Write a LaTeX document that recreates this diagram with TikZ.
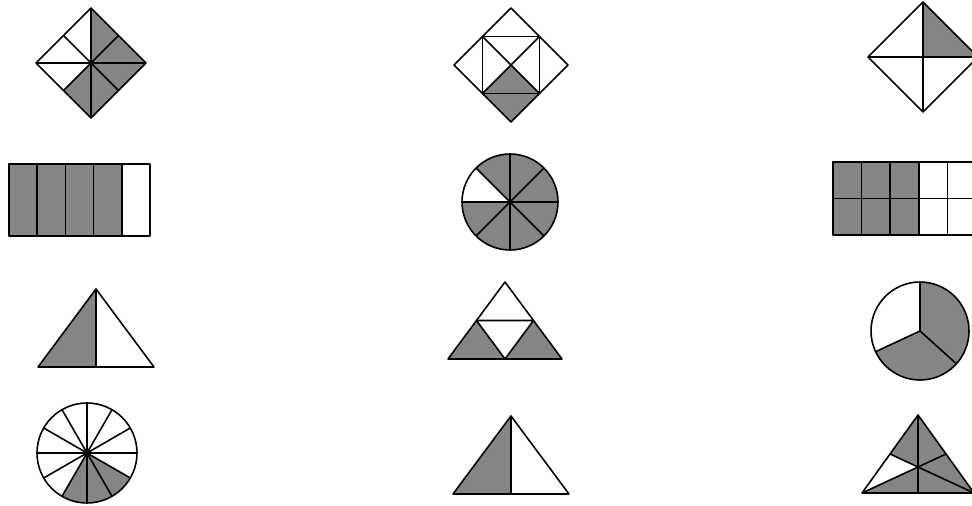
\documentclass[tikz,border=0pt]{standalone}
\usepackage{tikz}
\usetikzlibrary{calc}
\tikzset{
  arny/.style={fill=black!48},
  vonal/.style={draw,line width=0.9pt,line join=round},
  forgat/.style={shift={#1},yscale=-1},
}

\begin{document}
\begin{tikzpicture}[x=0.02cm,y=-0.02cm]
  \useasboundingbox (0,0) rectangle (972,506);
  \clip (0,0) rectangle (972,506);
  % elso sor
  \begin{scope}[forgat={(91,63)}]
    \fill[arny] (0,55) -- (55,0) -- (0,-55) -- cycle;
    \fill[arny] (0,0) -- (0,-55) -- (-27.5,-27.5) -- cycle;
    \draw[vonal] (0,55) -- (55,0) -- (0,-55) -- (-55,0) -- cycle;
    \draw[vonal] (0,55) -- (0,-55) (-55,0) -- (55,0);
    \draw[vonal] (-27.5,27.5) -- (27.5,-27.5) (27.5,27.5) -- (-27.5,-27.5);
    \fill (0,0) circle[radius=2];
  \end{scope}
  \begin{scope}[forgat={(511,65)}]
    \fill[arny] (0,0) -- (-28.5,-28.5) -- (0,-57) -- (28.5,-28.5) -- cycle;
    \draw[vonal] (0,57) -- (57,0) -- (0,-57) -- (-57,0) -- cycle;
    \draw[vonal] (-28.5,-28.5) rectangle (28.5,28.5);
    \draw[vonal] (-28.5,-28.5) -- (28.5,28.5) (28.5,-28.5) -- (-28.5,28.5);
  \end{scope}
  \begin{scope}[forgat={(923,57)}]
    \fill[arny] (0,0) -- (0,55) -- (55,0) -- cycle;
    \draw[vonal] (0,55) -- (55,0) -- (0,-55) -- (-55,0) -- cycle;
    \draw[vonal] (0,55) -- (0,-55) (-55,0) -- (55,0);
  \end{scope}
  % masodik sor
  \fill[arny] (9,164) rectangle (121.8,236);
  \draw[vonal] (9,164) rectangle (150,236);
  \foreach \x in {37.2,65.4,93.6,121.8} \draw[vonal] (\x,164) -- (\x,236);
  \begin{scope}[forgat={(510,202)}]
    \fill[arny] (0,0) -- (180:48) arc[start angle=180,end angle=495,radius=48] -- cycle;
    \draw[vonal] (0,0) circle[radius=48];
    \foreach \a in {0,45,90,135} \draw[vonal] (\a:48) -- (\a+180:48);
    \fill (0,0) circle[radius=2.5];
  \end{scope}
  \fill[arny] (833,162) rectangle (918.8,235);
  \draw[vonal] (833,162) rectangle (976,235);
  \draw[vonal] (833,198.5) -- (976,198.5);
  \foreach \x in {861.6,890.2,918.8,947.4} \draw[vonal] (\x,162) -- (\x,235);
  % harmadik sor
  \fill[arny] (96,289) -- (38,367) -- (96,367) -- cycle;
  \draw[vonal] (96,289) -- (38,367) -- (154,367) -- cycle;
  \draw[vonal] (96,289) -- (96,367);
  \fill[arny] (476.5,320.5) -- (448,359) -- (505,359) -- cycle;
  \fill[arny] (533.5,320.5) -- (505,359) -- (562,359) -- cycle;
  \draw[vonal] (505,282) -- (448,359) -- (562,359) -- cycle;
  \draw[vonal] (476.5,320.5) -- (533.5,320.5) -- (505,359) -- cycle;
  \begin{scope}[forgat={(920,331)}]
    \fill[arny] (0,0) -- (205:49) arc[start angle=205,end angle=450,radius=49] -- cycle;
    \draw[vonal] (0,0) circle[radius=49];
    \foreach \a in {90,205,318} \draw[vonal] (0,0) -- (\a:49);
  \end{scope}
  % negyedik sor
  \begin{scope}[forgat={(87,453)}]
    \fill[arny] (0,0) -- (240:50) arc[start angle=240,end angle=330,radius=50] -- cycle;
    \draw[vonal] (0,0) circle[radius=50];
    \foreach \a in {0,30,...,150} \draw[vonal] (\a:50) -- (\a+180:50);
    \fill (0,0) circle[radius=3.5];
  \end{scope}
  \fill[arny] (511,416) -- (453,494) -- (511,494) -- cycle;
  \draw[vonal] (511,416) -- (453,494) -- (569,494) -- cycle;
  \draw[vonal] (511,416) -- (511,494);
  \fill[arny] (918,415) -- (974,493) -- (862,493) -- (918,467) -- (890,454) -- cycle;
  \draw[vonal] (918,415) -- (862,493) -- (974,493) -- cycle;
  \draw[vonal] (918,415) -- (918,493) (862,493) -- (946,454) (974,493) -- (890,454);
\end{tikzpicture}
\end{document}
